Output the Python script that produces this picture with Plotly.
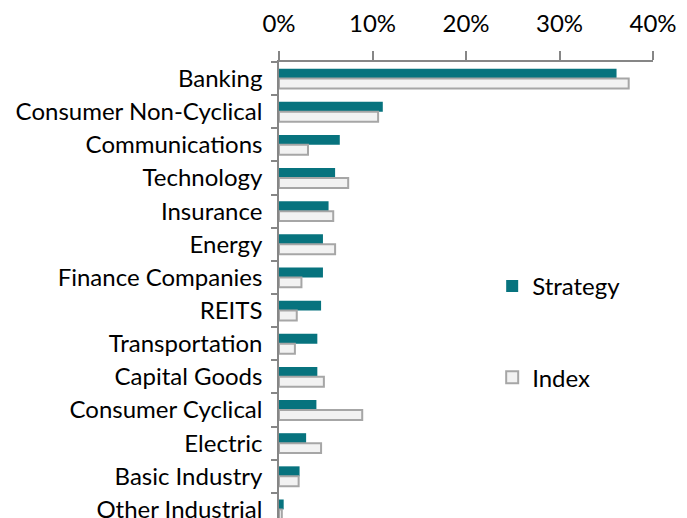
import plotly.graph_objects as go

categories = ["Banking", "Consumer Non-Cyclical", "Communications", "Technology",
              "Insurance", "Energy", "Finance Companies", "REITS", "Transportation",
              "Capital Goods", "Consumer Cyclical", "Electric", "Basic Industry",
              "Other Industrial"]
strategy = [36.1, 11.1, 6.5, 6.0, 5.3, 4.7, 4.7, 4.5, 4.1, 4.1, 4.0, 2.9, 2.2, 0.5]
index_vals = [37.4, 10.6, 3.1, 7.4, 5.8, 6.0, 2.4, 1.9, 1.7, 4.8, 8.9, 4.5, 2.1, 0.3]
x_ticks = [0, 10, 20, 30, 40]

FONT = "Lato"

fig = go.Figure()
fig.add_trace(go.Bar(
    y=categories, x=strategy, orientation="h", name="Strategy",
    marker=dict(color="#07737e", line=dict(width=0)),
    legendgroup="a",
))
fig.add_trace(go.Bar(
    y=categories, x=index_vals, orientation="h", name="Index",
    marker=dict(color="#f2f2f2", line=dict(color="#a6a6a6", width=2)),
    legendgroup="b",
))

fig.update_layout(
    width=687, height=518,
    margin=dict(l=271, r=42, t=51, b=0),
    paper_bgcolor="white", plot_bgcolor="white",
    barmode="group", bargap=0.4, bargroupgap=0.0,
    font=dict(family=FONT, size=24, color="#000000"),
    showlegend=True,
    legend=dict(
        x=0.57, y=0.565, xanchor="left", yanchor="top",
        traceorder="grouped", tracegroupgap=57,
        font=dict(family=FONT, size=24, color="#000000"),
        bgcolor="rgba(0,0,0,0)", itemwidth=30,
    ),
    xaxis=dict(
        side="top", range=[0, 40], tickvals=x_ticks,
        ticktext=[f"{v}%" for v in x_ticks],
        showgrid=False, zeroline=False,
        showline=True, linecolor="#868686", linewidth=1.5,
        ticks="outside", ticklen=9, tickcolor="#868686", tickwidth=1.5,
        ticklabelstandoff=10,
        tickfont=dict(family=FONT, size=24),
    ),
    yaxis=dict(
        type="category", categoryorder="array", categoryarray=categories,
        range=[13.5, -0.5],
        showgrid=False, zeroline=False,
        showline=True, linecolor="#868686", linewidth=1.5,
        ticks="outside", ticklen=6, tickcolor="#868686", tickwidth=1.5,
        tickson="boundaries", ticklabelstandoff=10,
        tickfont=dict(family=FONT, size=24),
    ),
)

fig.write_html("out.html")
